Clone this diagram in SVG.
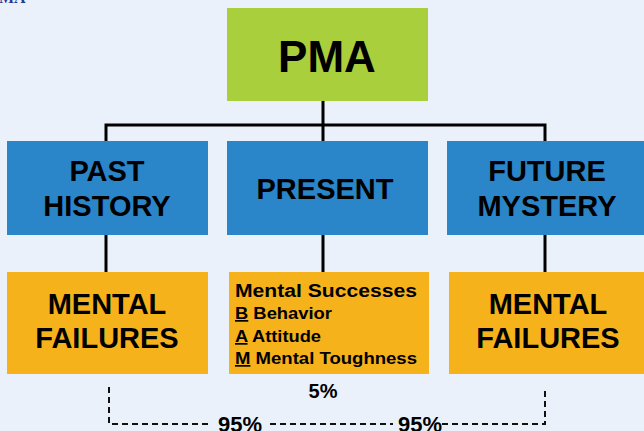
<svg xmlns="http://www.w3.org/2000/svg" width="644" height="431" viewBox="0 0 644 431">
<style>
.bg{fill:#eaf1fa}
.green{fill:#a9cf3c}
.blue{fill:#2a86c8}
.orange{fill:#f5b21b}
.t{font-family:"Liberation Sans",Arial,sans-serif;font-weight:bold;fill:#000;text-anchor:middle}
.s{font-family:"Liberation Sans",Arial,sans-serif;font-weight:bold;fill:#000}
.line{stroke:#000;stroke-width:3;fill:none}
.dash{stroke:#111;stroke-width:2;fill:none;stroke-dasharray:6 4}
</style>
<rect class="bg" x="0" y="0" width="644" height="431"/>
<text x="-1" y="3" font-family="'Liberation Serif',serif" font-weight="bold" font-size="16" fill="#1f3a93">MA</text>
<g id="connectors">
<path class="line" d="M323 101V125M106 141V125H545V141M323 125V141"/>
<path class="line" d="M106 235V272M323 235V272M545 235V272"/>
<path class="dash" d="M109 387V424H212M270 424H393M442 424H545V387"/>
</g>
<g id="pma">
<rect class="green" x="227" y="8" width="201" height="93"/>
<text class="t" x="327" y="72" font-size="44">PMA</text>
</g>
<g id="past">
<rect class="blue" x="7" y="141" width="201" height="94"/>
<text class="t" x="107" y="181" font-size="29">PAST</text>
<text class="t" x="107" y="216" font-size="29">HISTORY</text>
</g>
<g id="present">
<rect class="blue" x="227" y="141" width="201" height="94"/>
<text class="t" x="325" y="199" font-size="29">PRESENT</text>
</g>
<g id="future">
<rect class="blue" x="447" y="141" width="201" height="94"/>
<text class="t" x="547" y="181" font-size="29">FUTURE</text>
<text class="t" x="547" y="216" font-size="29">MYSTERY</text>
</g>
<g id="failures-left">
<rect class="orange" x="7" y="272" width="201" height="102"/>
<text class="t" x="107" y="314" font-size="29">MENTAL</text>
<text class="t" x="107" y="348" font-size="29">FAILURES</text>
</g>
<g id="successes">
<rect class="orange" x="229" y="272" width="200" height="102"/>
<text class="s" x="235" y="297" font-size="18" textLength="182" lengthAdjust="spacingAndGlyphs">Mental Successes</text>
<text class="s" x="235" y="319" font-size="17" textLength="97" lengthAdjust="spacingAndGlyphs"><tspan text-decoration="underline">B</tspan> Behavior</text>
<text class="s" x="235" y="342" font-size="17" textLength="86" lengthAdjust="spacingAndGlyphs"><tspan text-decoration="underline">A</tspan> Attitude</text>
<text class="s" x="235" y="364" font-size="17" textLength="182" lengthAdjust="spacingAndGlyphs"><tspan text-decoration="underline">M</tspan> Mental Toughness</text>
</g>
<g id="failures-right">
<rect class="orange" x="449" y="272" width="201" height="102"/>
<text class="t" x="548" y="314" font-size="29">MENTAL</text>
<text class="t" x="548" y="348" font-size="29">FAILURES</text>
</g>
<g id="labels">
<text class="t" x="323" y="398" font-size="20">5%</text>
<text class="t" x="240" y="432" font-size="22">95%</text>
<text class="t" x="420" y="432" font-size="22">95%</text>
</g>
</svg>
